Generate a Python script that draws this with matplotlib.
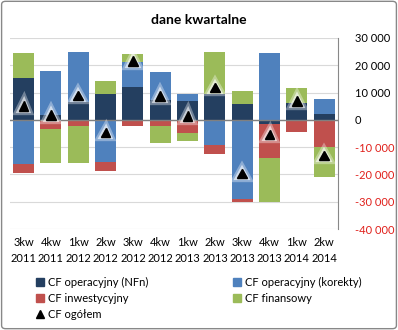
import numpy as np
from matplotlib import pyplot as plt
from matplotlib import patheffects as pe
from matplotlib.patches import FancyBboxPatch, Patch
from matplotlib.lines import Line2D
from matplotlib.ticker import FuncFormatter

plt.rcParams['font.family'] = ['Lato', 'DejaVu Sans']

quarters = ['3kw\n2011', '4kw\n2011', '1kw\n2012', '2kw\n2012', '3kw\n2012', '4kw\n2012',
            '1kw\n2013', '2kw\n2013', '3kw\n2013', '4kw\n2013', '1kw\n2014', '2kw\n2014']

cf_nfn = [15200, 1900, 6700, 9300, 11900, 7400, 7000, 9600, 5900, -1400, 6300, 2200]
cf_korekty = [-16300, 15900, 18100, -15600, 9200, 10000, 2300, -9100, -29100, 24400, 0, 5600]
cf_inwest = [-3000, -3200, -2200, -3200, -2200, -2200, -4700, -3400, -900, -12600, -4300, -9900]
cf_finans = [9300, -12600, -13600, 5100, 3000, -6200, -3000, 15200, 4500, -16000, 5200, -11100]
cf_ogolem = [5000, 1900, 8900, -4600, 21500, 8700, 1300, 11800, -19700, -5400, 6900, -13100]

series = [(cf_nfn, '#243F60', 'CF operacyjny (NFn)'),
          (cf_korekty, '#4F81BD', 'CF operacyjny (korekty)'),
          (cf_inwest, '#C0504D', 'CF inwestycyjny'),
          (cf_finans, '#9BBB59', 'CF finansowy')]

fig = plt.figure(figsize=(3.98, 3.30), dpi=100)
fig.patches.append(FancyBboxPatch((0.004, 0.004), 0.992, 0.992, boxstyle='round,pad=0,rounding_size=0.01',
                                  transform=fig.transFigure, fill=False, edgecolor='#888888', lw=1))
ax = fig.add_axes([0.025, 0.306, 0.824, 0.579])

x = np.arange(len(quarters))
pos_base = np.zeros(len(x))
neg_base = np.zeros(len(x))
for vals, col, lab in series:
    v = np.array(vals, dtype=float)
    base = np.where(v >= 0, pos_base, neg_base)
    ax.bar(x, v, 0.77, bottom=base, color=col, zorder=2)
    pos_base = pos_base + np.where(v > 0, v, 0)
    neg_base = neg_base + np.where(v < 0, v, 0)

ax.plot(x, cf_ogolem, linestyle='none', marker='^', ms=7, color='black', zorder=4,
        path_effects=[pe.withStroke(linewidth=6, foreground='white', alpha=0.35),
                      pe.withStroke(linewidth=3, foreground='white', alpha=0.6)])

ax.set_xlim(-0.5, len(x) - 0.5)
ax.set_ylim(-40000, 30000)
ax.set_yticks(np.arange(-40000, 30001, 10000))
ax.yaxis.set_major_formatter(FuncFormatter(lambda v, p: f'{int(v):,}'.replace(',', ' ')))
ax.yaxis.tick_right()
ax.tick_params(axis='y', length=0, labelsize=8, pad=12)
for t, v in zip(ax.get_yticklabels(), ax.get_yticks()):
    if v < 0:
        t.set_color('#E0201B')
ax.set_xticks(x)
ax.set_xticklabels(quarters, fontsize=8, linespacing=1.5)
ax.tick_params(axis='x', length=0, pad=6)
ax.grid(axis='y', color='#D9D9D9', lw=0.8, zorder=0)
ax.axhline(0, color='#808080', lw=1, zorder=3)
for s in ['top', 'left', 'bottom']:
    ax.spines[s].set_visible(False)
ax.spines['right'].set_color('#888888')

fig.text(0.5, 0.94, 'dane kwartalne', ha='center', va='center', fontsize=10, fontweight='bold')

handles = [Patch(color=series[0][1], label=series[0][2]),
           Patch(color=series[2][1], label=series[2][2]),
           Line2D([], [], linestyle='none', marker='^', color='black', ms=6, label='CF ogółem'),
           Patch(color=series[1][1], label=series[1][2]),
           Patch(color=series[3][1], label=series[3][2])]
fig.legend(handles=handles, ncol=2, loc='lower left', bbox_to_anchor=(0.065, 0.0), frameon=False,
           fontsize=8, handlelength=0.7, handleheight=0.7, handletextpad=0.4, columnspacing=7.6,
           labelspacing=0.45)

fig.savefig('out.png', dpi=100)
